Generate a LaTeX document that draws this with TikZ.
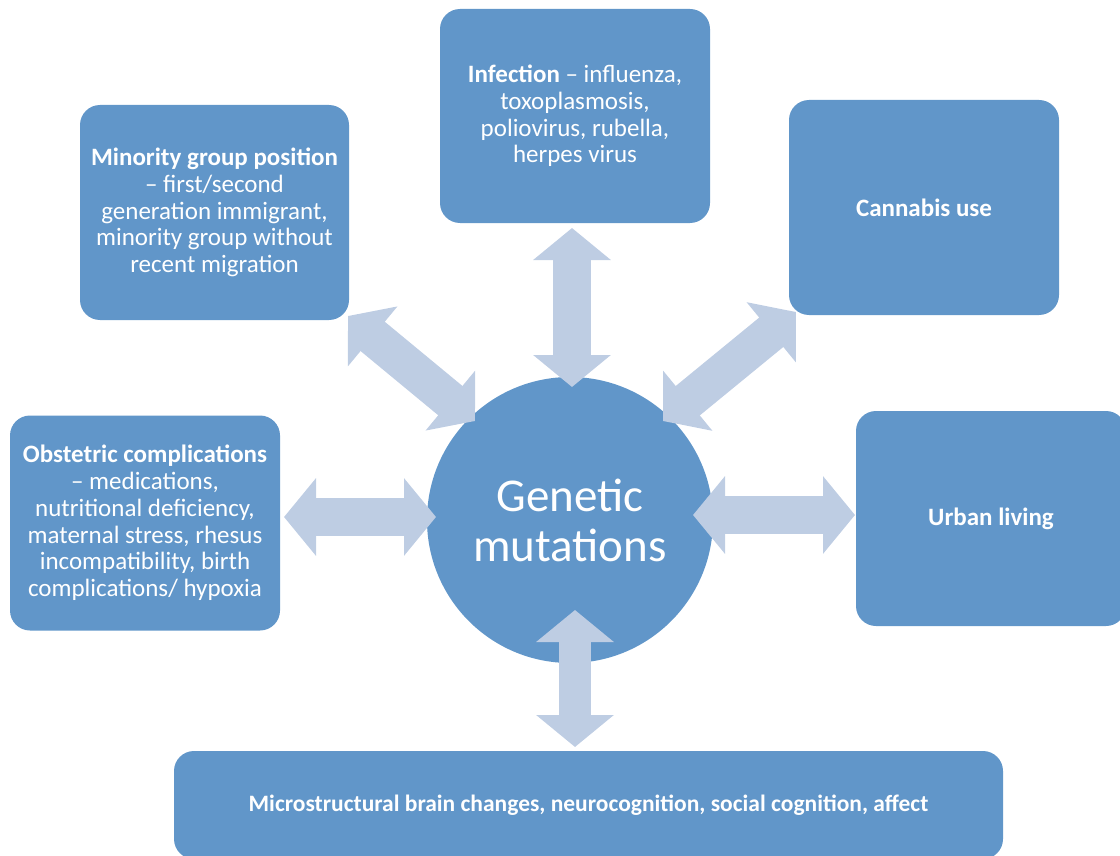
\documentclass[tikz,border=0pt]{standalone}
\usepackage{fontspec}
\setmainfont{Carlito}
\usetikzlibrary{arrows.meta}
\definecolor{boxblue}{HTML}{6196C9}
\definecolor{arrowblue}{HTML}{BECDE3}
\tikzset{
  box/.style={fill=boxblue, draw=none, rounded corners=20pt, text=white, align=center,
    inner sep=0pt, font=\fontsize{25}{26.8}\selectfont},
  hub/.style={circle, fill=boxblue, draw=none, text=white, align=center, inner sep=0pt,
    minimum size=286pt, font=\fontsize{47}{50}\selectfont},
  dbl/.style={draw=arrowblue, line width=38pt,
    {Triangle[length=32pt 0 0,width=76pt 0 0]}-{Triangle[length=32pt 0 0,width=76pt 0 0]}},
}
\begin{document}
\begin{tikzpicture}[x=1pt,y=-1pt]
\useasboundingbox (0,0) rectangle (1120,856);
\clip (0,0) rectangle (1120,856);

\node[box, minimum width=269pt, minimum height=215pt] (minority) at (214.5,212.5)
  {\textbf{Minority group position}\\ – first/second\\ generation immigrant,\\ minority group without\\ recent migration};
\node[box, minimum width=270pt, minimum height=214pt] (infection) at (575,116)
  {\textbf{Infection} – influenza,\\ toxoplasmosis,\\ poliovirus, rubella,\\ herpes virus};
\node[box, minimum width=270pt, minimum height=215pt] (cannabis) at (924,207.5)
  {\textbf{Cannabis use}};
\node[box, minimum width=270pt, minimum height=215pt] (obstetric) at (145,523)
  {\textbf{Obstetric complications}\\ – medications,\\ nutritional deficiency,\\ maternal stress, rhesus\\ incompatibility, birth\\ complications/ hypoxia};
\node[box, minimum width=270pt, minimum height=215pt] (urban) at (991,518.5)
  {\textbf{Urban living}};
\node[box, minimum width=829pt, minimum height=108pt, font=\fontsize{23.5}{26}\selectfont] (brain) at (588.5,805)
  {\textbf{Microstructural brain changes, neurocognition, social cognition, affect}};
\node[hub] (genetic) at (570,520) {Genetic\\ mutations};

\coordinate (tA) at (572,228);  \coordinate (tB) at (572,387);
\coordinate (lA) at (284,517);  \coordinate (lB) at (436,517);
\coordinate (rA) at (693,515);  \coordinate (rB) at (855,515);
\coordinate (bA) at (575,610);  \coordinate (bB) at (575,747);
\coordinate (ulA) at (348,316); \coordinate (ulB) at (475,421);
\coordinate (urA) at (663,421); \coordinate (urB) at (796,312);

\draw[dbl] (tA) -- (tB);
\draw[dbl] (lA) -- (lB);
\draw[dbl] (rA) -- (rB);
\draw[dbl, line width=32pt] (bA) -- (bB);
\draw[dbl] (ulA) -- (ulB);
\draw[dbl] (urA) -- (urB);
\end{tikzpicture}
\end{document}
